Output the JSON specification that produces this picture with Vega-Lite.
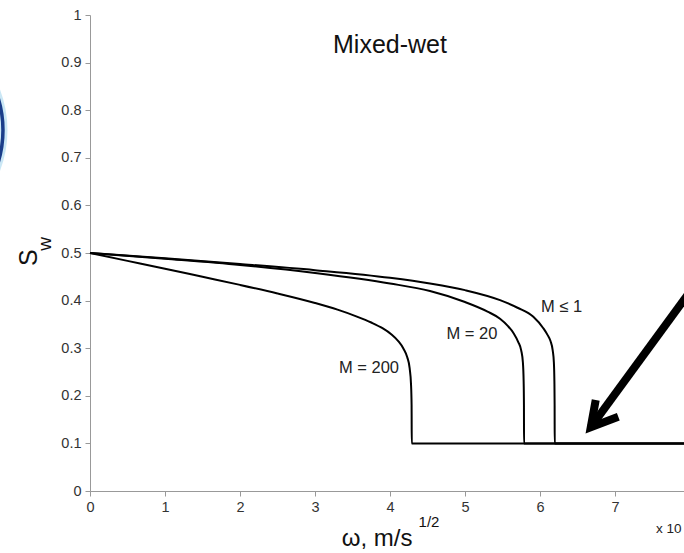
{
  "$schema": "https://vega.github.io/schema/vega-lite/v6.json",
  "width": 600,
  "height": 476,
  "autosize": {"type": "none"},
  "padding": {"left": 90, "top": 15, "right": 0, "bottom": 62},
  "background": "white",
  "config": {
    "view": {"stroke": null},
    "font": "Liberation Sans",
    "text": {"font": "Liberation Sans"}
  },
  "datasets": {
    "curves": [
      {"M": "M≤1", "w": 0, "s": 0.5}, {"M": "M≤1", "w": 1, "s": 0.489}, {"M": "M≤1", "w": 2, "s": 0.477},
      {"M": "M≤1", "w": 3, "s": 0.464}, {"M": "M≤1", "w": 4, "s": 0.448}, {"M": "M≤1", "w": 4.533, "s": 0.436},
      {"M": "M≤1", "w": 5, "s": 0.422}, {"M": "M≤1", "w": 5.467, "s": 0.401}, {"M": "M≤1", "w": 5.7, "s": 0.385},
      {"M": "M≤1", "w": 5.911, "s": 0.366}, {"M": "M≤1", "w": 6.044, "s": 0.342}, {"M": "M≤1", "w": 6.1, "s": 0.328},
      {"M": "M≤1", "w": 6.14, "s": 0.315}, {"M": "M≤1", "w": 6.169, "s": 0.296}, {"M": "M≤1", "w": 6.185, "s": 0.27},
      {"M": "M≤1", "w": 6.192, "s": 0.23}, {"M": "M≤1", "w": 6.195, "s": 0.18}, {"M": "M≤1", "w": 6.196, "s": 0.1},
      {"M": "M≤1", "w": 8.3, "s": 0.1},
      {"M": "M=20", "w": 0, "s": 0.5}, {"M": "M=20", "w": 1, "s": 0.488}, {"M": "M=20", "w": 2, "s": 0.475},
      {"M": "M=20", "w": 3, "s": 0.458}, {"M": "M=20", "w": 4, "s": 0.436}, {"M": "M=20", "w": 4.533, "s": 0.42},
      {"M": "M=20", "w": 5, "s": 0.397}, {"M": "M=20", "w": 5.3, "s": 0.377}, {"M": "M=20", "w": 5.467, "s": 0.362},
      {"M": "M=20", "w": 5.57, "s": 0.347}, {"M": "M=20", "w": 5.65, "s": 0.331},
      {"M": "M=20", "w": 5.71, "s": 0.313}, {"M": "M=20", "w": 5.75, "s": 0.295}, {"M": "M=20", "w": 5.772, "s": 0.27},
      {"M": "M=20", "w": 5.782, "s": 0.23}, {"M": "M=20", "w": 5.786, "s": 0.18}, {"M": "M=20", "w": 5.787, "s": 0.1},
      {"M": "M=20", "w": 8.3, "s": 0.1},
      {"M": "M=200", "w": 0, "s": 0.5}, {"M": "M=200", "w": 0.5, "s": 0.4835}, {"M": "M=200", "w": 1, "s": 0.467},
      {"M": "M=200", "w": 1.5, "s": 0.45}, {"M": "M=200", "w": 2, "s": 0.433}, {"M": "M=200", "w": 2.5, "s": 0.415},
      {"M": "M=200", "w": 3, "s": 0.395}, {"M": "M=200", "w": 3.3, "s": 0.381}, {"M": "M=200", "w": 3.55, "s": 0.367},
      {"M": "M=200", "w": 3.75, "s": 0.354}, {"M": "M=200", "w": 3.9, "s": 0.342}, {"M": "M=200", "w": 4.02, "s": 0.329},
      {"M": "M=200", "w": 4.11, "s": 0.315}, {"M": "M=200", "w": 4.18, "s": 0.299}, {"M": "M=200", "w": 4.23, "s": 0.281},
      {"M": "M=200", "w": 4.262, "s": 0.258}, {"M": "M=200", "w": 4.28, "s": 0.225},
      {"M": "M=200", "w": 4.288, "s": 0.18}, {"M": "M=200", "w": 4.29, "s": 0.1}, {"M": "M=200", "w": 8.3, "s": 0.1}
    ],
    "arrow": [
      {"part": "shaft", "i": 1, "w": 8.133, "s": 0.4475},
      {"part": "shaft", "i": 2, "w": 6.677, "s": 0.134},
      {"part": "head", "i": 1, "w": 6.743, "s": 0.191},
      {"part": "head", "i": 2, "w": 6.677, "s": 0.134},
      {"part": "head", "i": 3, "w": 7.044, "s": 0.156}
    ]
  },
  "layer": [
    {
      "data": {"name": "curves"},
      "mark": {"type": "line", "color": "black", "strokeWidth": 2, "interpolate": "monotone"},
      "encoding": {
        "x": {"field": "w", "type": "quantitative", "scale": {"domain": [0, 8], "nice": false, "zero": false},
          "axis": {"orient": "bottom", "values": [0, 1, 2, 3, 4, 5, 6, 7], "format": "d", "title": null, "grid": false,
            "labelFontSize": 14.5, "labelColor": "#333", "domainColor": "#999", "tickColor": "#999", "tickSize": 5,
            "labelPadding": 4, "labelFlush": false, "labelFont": "Liberation Sans"}},
        "y": {"field": "s", "type": "quantitative", "scale": {"domain": [0, 1], "nice": false},
          "axis": {"values": [0, 0.1, 0.2, 0.3, 0.4, 0.5, 0.6, 0.7, 0.8, 0.9, 1], "format": "~g", "title": null, "grid": false,
            "labelFontSize": 14.5, "labelColor": "#333", "domainColor": "#999", "tickColor": "#999", "tickSize": 5,
            "labelPadding": 4, "labelFlush": false, "labelFont": "Liberation Sans"}},
        "detail": {"field": "M"}
      }
    },
    {
      "data": {"name": "arrow"},
      "mark": {"type": "line", "color": "black", "strokeWidth": 8, "strokeJoin": "miter", "strokeCap": "butt"},
      "encoding": {
        "x": {"field": "w", "type": "quantitative", "axis": null},
        "y": {"field": "s", "type": "quantitative", "axis": null},
        "detail": {"field": "part"},
        "order": {"field": "i"}
      }
    },
    {
      "data": {"values": [{"w": -2.627, "s": 0.758}]},
      "layer": [
        {
          "mark": {"type": "point", "filled": false, "size": 48400, "stroke": "#a8d8f0", "strokeWidth": 9, "opacity": 0.6},
          "encoding": {
            "x": {"field": "w", "type": "quantitative",
              "axis": {"orient": "top", "values": [0, 1, 2, 3, 4, 5, 6, 7], "labels": false, "title": null, "grid": false,
                "domainColor": "#999", "tickColor": "#999", "tickSize": 5}},
            "y": {"field": "s", "type": "quantitative", "axis": null}
          }
        },
        {
          "mark": {"type": "point", "filled": false, "size": 48400, "stroke": "#1a3d8a", "strokeWidth": 3.5, "opacity": 1},
          "encoding": {
            "x": {"field": "w", "type": "quantitative", "axis": null},
            "y": {"field": "s", "type": "quantitative", "axis": null}
          }
        }
      ]
    },
    {
      "data": {"values": [
        {"label": "M ≤ 1", "w": 6.287, "s": 0.387},
        {"label": "M = 20", "w": 5.093, "s": 0.33},
        {"label": "M = 200", "w": 3.72, "s": 0.259}
      ]},
      "mark": {"type": "text", "fontSize": 16.5, "color": "#222", "align": "center", "baseline": "middle"},
      "encoding": {
        "x": {"field": "w", "type": "quantitative", "axis": null},
        "y": {"field": "s", "type": "quantitative", "axis": null},
        "text": {"field": "label"}
      }
    },
    {
      "data": {"values": [{"label": "Mixed-wet", "w": 4.0, "s": 0.938}]},
      "mark": {"type": "text", "fontSize": 25, "color": "#111", "align": "center", "baseline": "middle"},
      "encoding": {
        "x": {"field": "w", "type": "quantitative", "axis": null},
        "y": {"field": "s", "type": "quantitative", "axis": null},
        "text": {"field": "label"}
      }
    },
    {
      "data": {"values": [{"label": "ω, m/s", "w": 3.827, "s": -0.1}]},
      "mark": {"type": "text", "fontSize": 24, "color": "#111", "align": "center", "baseline": "middle"},
      "encoding": {
        "x": {"field": "w", "type": "quantitative", "axis": null},
        "y": {"field": "s", "type": "quantitative", "axis": null},
        "text": {"field": "label"}
      }
    },
    {
      "data": {"values": [{"label": "1/2", "w": 4.52, "s": -0.065}]},
      "mark": {"type": "text", "fontSize": 15, "color": "#111", "align": "center", "baseline": "middle"},
      "encoding": {
        "x": {"field": "w", "type": "quantitative", "axis": null},
        "y": {"field": "s", "type": "quantitative", "axis": null},
        "text": {"field": "label"}
      }
    },
    {
      "data": {"values": [{"label": "S", "w": -0.813, "s": 0.49}]},
      "mark": {"type": "text", "fontSize": 25, "color": "#111", "align": "center", "baseline": "middle", "angle": 270},
      "encoding": {
        "x": {"field": "w", "type": "quantitative", "axis": null},
        "y": {"field": "s", "type": "quantitative", "axis": null},
        "text": {"field": "label"}
      }
    },
    {
      "data": {"values": [{"label": "w", "w": -0.6, "s": 0.519}]},
      "mark": {"type": "text", "fontSize": 19, "color": "#111", "align": "center", "baseline": "middle", "angle": 270},
      "encoding": {
        "x": {"field": "w", "type": "quantitative", "axis": null},
        "y": {"field": "s", "type": "quantitative", "axis": null},
        "text": {"field": "label"}
      }
    },
    {
      "data": {"values": [{"label": "x 10", "w": 7.547, "s": -0.08}]},
      "mark": {"type": "text", "fontSize": 13.5, "color": "#222", "align": "left", "baseline": "middle"},
      "encoding": {
        "x": {"field": "w", "type": "quantitative", "axis": null},
        "y": {"field": "s", "type": "quantitative", "axis": null},
        "text": {"field": "label"}
      }
    }
  ],
  "resolve": {"axis": {"x": "independent", "y": "independent"}}
}
